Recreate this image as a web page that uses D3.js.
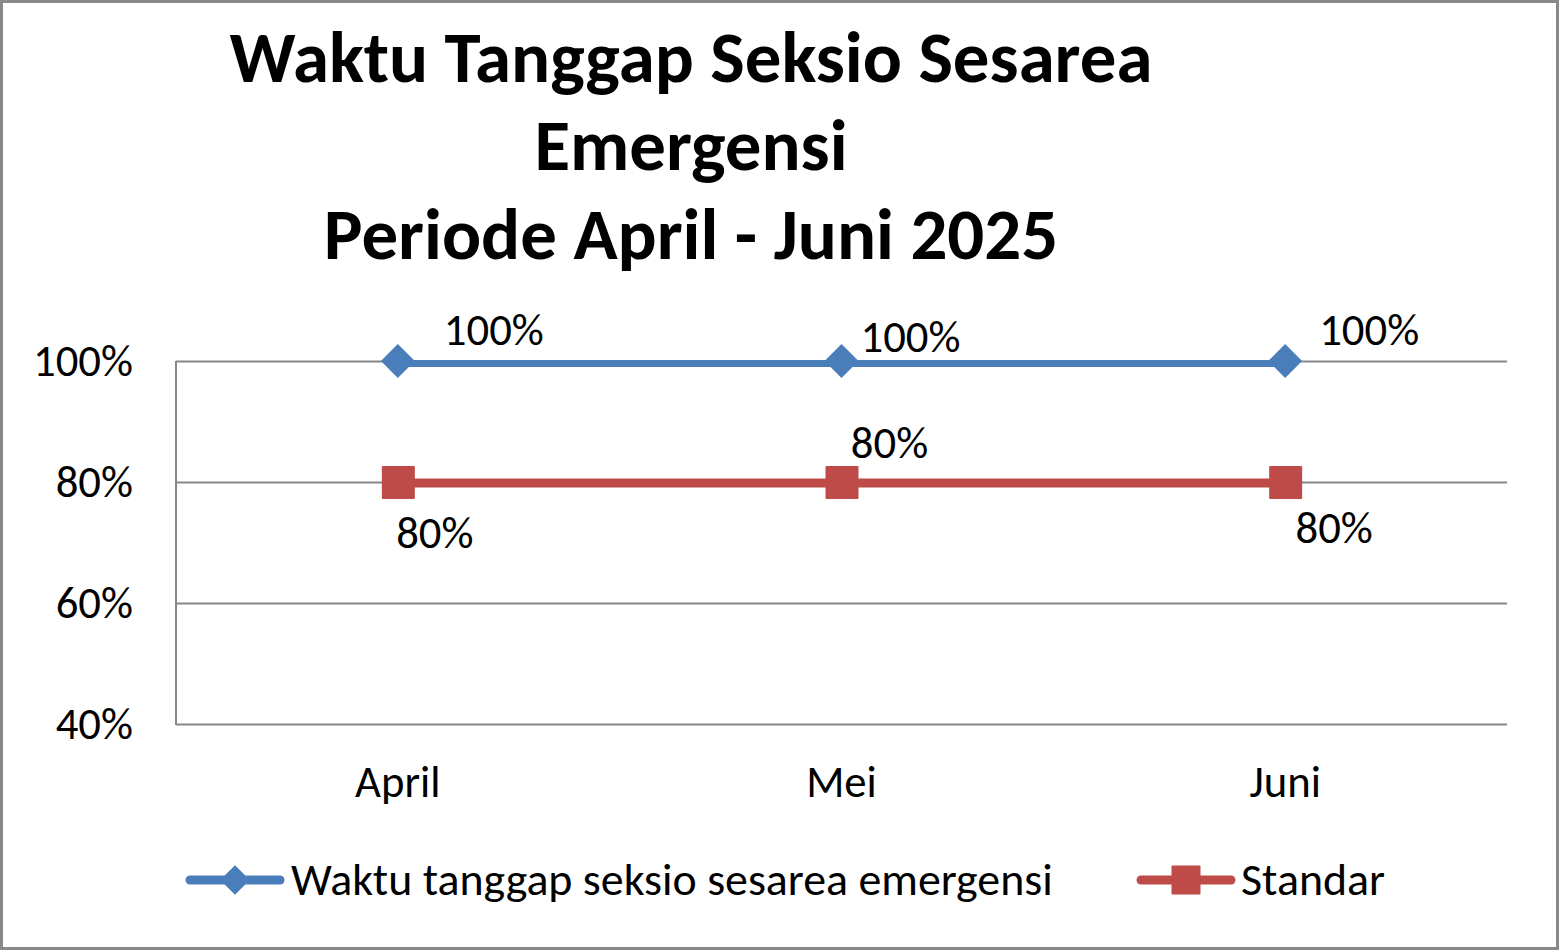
<!DOCTYPE html>
<html>
<head>
<meta charset="utf-8">
<script src="https://cdn.jsdelivr.net/npm/d3@7/dist/d3.min.js"></script>
<style>
  html, body { margin: 0; padding: 0; background: #fff; }
  svg { display: block; }
  text { font-family: Carlito, Calibri, Lato, "Open Sans", sans-serif; fill: #000; }
</style>
</head>
<body>
<svg id="chart" width="1560" height="951"></svg>
<script>
// ---- data ----
const categories = ["April", "Mei", "Juni"];
const seriesNames = ["Waktu tanggap seksio sesarea emergensi", "Standar"];
const responseValues = [100, 100, 100];
const standardValues = [80, 80, 80];
const yTicks = [40, 60, 80, 100];
const titleLines = ["Waktu Tanggap Seksio Sesarea", "Emergensi", "Periode April - Juni 2025"];

// ---- layout ----
const W = 1560, H = 951;
const plot = { left: 176, right: 1507, top: 361, bottom: 724 };
const colors = { blue: "#4a7ebb", red: "#be4b48", grid: "#878787", border: "#898989" };
// label offsets relative to point (dx = center offset, dy = baseline offset)
const blueLabelOffsets = [[96, -16], [69, -9], [84, -16]];
const redLabelOffsets = [[37, 66], [48, -24], [49, 61]];

const svg = d3.select("#chart");

// fit text to target width (font fallback compensation)
function fit(sel, targetW) {
  sel.each(function () {
    const t = d3.select(this);
    const fs = parseFloat(t.style("font-size"));
    const w = this.getComputedTextLength();
    if (w > 0) t.style("font-size", (fs * targetW / w) + "px");
  });
}

// outer border
svg.append("rect")
  .attr("x", 1.5).attr("y", 1.5)
  .attr("width", W - 4).attr("height", H - 4)
  .attr("fill", "#fff").attr("stroke", colors.border).attr("stroke-width", 3);

// scales
const x = d3.scaleBand().domain(categories).range([plot.left, plot.right]).padding(0);
const cx = d => x(d) + x.bandwidth() / 2;
const y = d3.scaleLinear().domain([40, 100]).range([plot.bottom, plot.top]);

// gridlines via axis
const grid = svg.append("g")
  .attr("transform", `translate(${plot.left},0)`)
  .call(d3.axisLeft(y).tickValues(yTicks).tickSize(-(plot.right - plot.left)).tickFormat(""));
grid.select(".domain").remove();
grid.selectAll(".tick line").attr("stroke", colors.grid).attr("stroke-width", 2);

// left axis line
svg.append("line")
  .attr("x1", plot.left).attr("x2", plot.left)
  .attr("y1", plot.top).attr("y2", plot.bottom + 1)
  .attr("stroke", colors.grid).attr("stroke-width", 2);

// y tick labels
const yAxis = svg.append("g")
  .attr("transform", `translate(${plot.left},0)`)
  .call(d3.axisLeft(y).tickValues(yTicks).tickSize(0).tickPadding(43).tickFormat(d => d + "%"));
yAxis.select(".domain").remove();
yAxis.selectAll("text")
  .style("font-size", "44px").attr("dy", "0.32em")
  .style("font-family", null).attr("font-family", null);
fit(yAxis.selectAll("text").filter(d => d === 100), 100);
const ySize = yAxis.selectAll("text").filter(d => d === 100).style("font-size");
yAxis.selectAll("text").style("font-size", ySize);

// x labels
const xAxis = svg.append("g")
  .attr("transform", `translate(0,${plot.bottom})`)
  .call(d3.axisBottom(x).tickSize(0).tickPadding(0));
xAxis.select(".domain").remove();
xAxis.selectAll("text")
  .attr("y", 73).attr("dy", 0)
  .style("font-size", ySize);

// lines
const line = d3.line().x((d, i) => cx(categories[i])).y(d => y(d));
svg.append("path").datum(standardValues)
  .attr("d", line).attr("fill", "none")
  .attr("stroke", colors.red).attr("stroke-width", 9).attr("transform", "translate(0,1)");
svg.append("path").datum(responseValues)
  .attr("d", line).attr("fill", "none")
  .attr("stroke", colors.blue).attr("stroke-width", 7).attr("transform", "translate(0,2.5)");

// markers
const diamond = d3.symbol().type(d3.symbolSquare).size(24 * 24);
svg.selectAll(".mk-blue").data(responseValues).enter().append("path")
  .attr("d", diamond)
  .attr("transform", (d, i) => `translate(${cx(categories[i])},${y(d)}) rotate(45)`)
  .attr("fill", colors.blue);
svg.selectAll(".mk-red").data(standardValues).enter().append("rect")
  .attr("x", (d, i) => cx(categories[i]) - 16)
  .attr("y", d => y(d) - 16)
  .attr("width", 33).attr("height", 33).attr("rx", 1)
  .attr("fill", colors.red);

// data labels
svg.selectAll(".lbl-blue").data(responseValues).enter().append("text")
  .attr("x", (d, i) => cx(categories[i]) + blueLabelOffsets[i][0])
  .attr("y", (d, i) => y(d) + blueLabelOffsets[i][1])
  .attr("text-anchor", "middle").style("font-size", ySize)
  .text(d => d + "%");
svg.selectAll(".lbl-red").data(standardValues).enter().append("text")
  .attr("x", (d, i) => cx(categories[i]) + redLabelOffsets[i][0])
  .attr("y", (d, i) => y(d) + redLabelOffsets[i][1])
  .attr("text-anchor", "middle").style("font-size", ySize)
  .text(d => d + "%");

// title
const titleBaselines = [82, 170, 259];
const titleG = svg.append("g");
titleG.selectAll("text").data(titleLines).enter().append("text")
  .attr("x", 691).attr("y", (d, i) => titleBaselines[i])
  .attr("text-anchor", "middle")
  .style("font-size", "72px").style("font-weight", "bold")
  .text(d => d);
fit(titleG.selectAll("text").filter((d, i) => i === 0), 923);
const tSize = titleG.select("text").style("font-size");
titleG.selectAll("text").style("font-size", tSize);

// legend
const legend = svg.append("g");
const legendItems = [
  { name: seriesNames[0], color: colors.blue, x1: 190, x2: 280, tx: 291, sw: 9, marker: "diamond" },
  { name: seriesNames[1], color: colors.red, x1: 1141, x2: 1231, tx: 1241, sw: 9, marker: "square" }
];
const ly = 880;
legendItems.forEach(it => {
  legend.append("line")
    .attr("x1", it.x1).attr("x2", it.x2).attr("y1", ly).attr("y2", ly)
    .attr("stroke", it.color).attr("stroke-width", it.sw).attr("stroke-linecap", "round");
  const mx = (it.x1 + it.x2) / 2;
  if (it.marker === "diamond") {
    legend.append("path")
      .attr("d", d3.symbol().type(d3.symbolSquare).size(21 * 21))
      .attr("transform", `translate(${mx},${ly}) rotate(45)`)
      .attr("fill", it.color);
  } else {
    legend.append("rect")
      .attr("x", mx - 14.5).attr("y", ly - 14.5)
      .attr("width", 29).attr("height", 29).attr("rx", 1)
      .attr("fill", it.color);
  }
  legend.append("text")
    .attr("x", it.tx).attr("y", ly + 15)
    .style("font-size", "40px")
    .text(it.name);
});
fit(legend.selectAll("text").filter(function () { return d3.select(this).text() === seriesNames[0]; }), 762);
const lSize = legend.select("text").style("font-size");
legend.selectAll("text").style("font-size", lSize);
</script>
</body>
</html>
